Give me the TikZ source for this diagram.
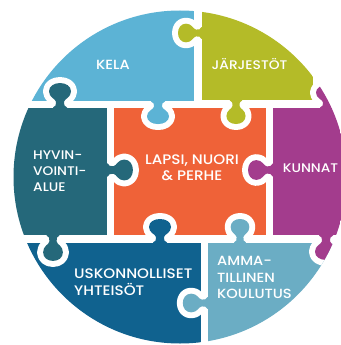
\documentclass[tikz,border=0pt]{standalone}
\usepackage{fontspec}
\setmainfont{Poppins Medium}[FakeStretch=1.1]
\definecolor{cKela}{HTML}{5CB3D5}
\definecolor{cJar}{HTML}{B4BB28}
\definecolor{cHyv}{HTML}{25687A}
\definecolor{cLap}{HTML}{EF6238}
\definecolor{cKun}{HTML}{A33C8D}
\definecolor{cUsk}{HTML}{10628F}
\definecolor{cAmm}{HTML}{6BADC4}
\tikzset{
  lbl/.style={text=white,font=\fontsize{12.5}{16}\selectfont,inner sep=0pt,align=left},
  lblc/.style={lbl,align=center},
  lblbig/.style={font=\fontsize{13.8}{16.5}\selectfont},
  lblmid/.style={font=\fontsize{13.3}{16.5}\selectfont}
}
% x, y, rotation, colour, width scale, length scale
\newcommand{\jigtab}[6]{%
  \begin{scope}[shift={(#1,#2)},rotate=#3,yscale=#6,xscale=#5]
    \def\tabshape{(-7,-1.5) -- (-7,0.5) .. controls (-4.5,1) and (-3.5,3.5) .. (-4,6)
      .. controls (-4.6,9) and (-11,10) .. (-11,16) .. controls (-11,21) and (-6,24) .. (0,24)
      .. controls (6,24) and (11,21) .. (11,16) .. controls (11,10) and (4.6,9) .. (4,6)
      .. controls (3.5,3.5) and (4.5,1) .. (7,0.5) -- (7,-1.5) -- cycle}
    \begin{scope}
      \clip (-40,3) rectangle (40,50);
      \draw[white,line width=12pt,line join=round] \tabshape;
    \end{scope}
    \fill[#4] \tabshape;
  \end{scope}}
\begin{document}
\begin{tikzpicture}[x=1pt,y=-1pt]
\useasboundingbox (0,0) rectangle (340,345);
\fill[white] (0,0) rectangle (340,345);
\begin{scope}
  \clip (180,177) circle (166.5);
  \fill[cKela] (0,0) rectangle (194,101);
  \fill[cJar] (202,0) rectangle (313,100);
  \fill[cHyv] (0,108) rectangle (107,235);
  \fill[cLap] (114,108) rectangle (266,235);
  \fill[cKun] (273,108) rectangle (350,235);
  \fill[cUsk] (0,243) rectangle (201,345);
  \fill[cAmm] (208,243) rectangle (350,345);
  \jigtab{60}{108}{180}{cHyv}{1}{1.04}
  \jigtab{158}{101}{0}{cKela}{1}{0.96}
  \jigtab{202}{33}{-90}{cJar}{0.85}{1}
  \jigtab{236}{100}{0}{cJar}{0.87}{1}
  \jigtab{327}{108}{180}{cKun}{1}{0.96}
  \jigtab{273}{170}{-90}{cKun}{0.9}{1.04}
  \jigtab{326}{235}{0}{cKun}{1}{1.04}
  \jigtab{240}{243}{180}{cAmm}{0.85}{1}
  \jigtab{208}{303}{-90}{cAmm}{0.85}{1.05}
  \jigtab{160}{243}{180}{cUsk}{1}{1}
  \jigtab{53}{235}{0}{cHyv}{0.9}{1.08}
  \jigtab{107}{170}{90}{cHyv}{0.95}{1.08}
\end{scope}
\node[lblc,lblmid] (kela) at (113,64.5) {KELA};
\node[lblc] (jar) at (249.5,64.5) {JÄRJESTÖT};
\node[lbl,anchor=west] (hyv) at (33,171) {HYVIN-\\VOINTI-\\ALUE};
\node[lblc,lblbig] (lap) at (192,167.5) {LAPSI, NUORI\\\& PERHE};
\node[lblc] (kun) at (310.5,168) {KUNNAT};
\node[lbl,lblbig,anchor=west] (usk) at (74,282) {USKONNOLLISET\\YHTEISÖT};
\node[lbl,lblmid,anchor=west] (amm) at (217,277.5) {AMMA-\\TILLINEN\\KOULUTUS};
\end{tikzpicture}
\end{document}
